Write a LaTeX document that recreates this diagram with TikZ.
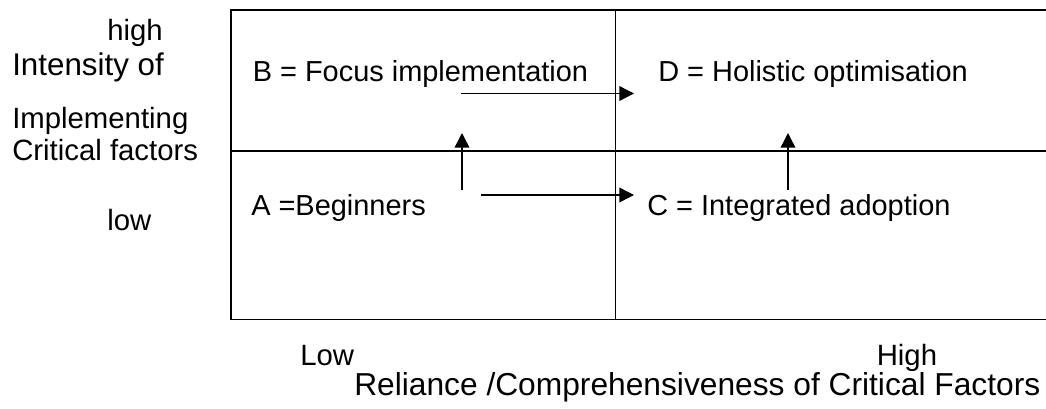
\documentclass[tikz,border=0pt]{standalone}
\usepackage{fontspec}
\setmainfont{Liberation Sans}
\usetikzlibrary{arrows.meta}

\begin{document}
\begin{tikzpicture}[x=0.75pt,y=-0.75pt,
        lbl/.style={anchor=base west,inner sep=0pt,font=\fontsize{21.7}{25}\selectfont},
        axis/.style={lbl,font=\fontsize{22}{26}\selectfont},
        caption/.style={lbl,font=\fontsize{23.8}{28}\selectfont},
        frame/.style={line width=1.3pt},
        divider/.style={line width=1pt},
        move/.style={line width=1.1pt,-{Triangle[length=11pt,width=11pt]}}]
        \useasboundingbox (0,0) rectangle (1046,408);
        \coordinate(tl) at (231,10);
        \coordinate(tr) at (1046,10);
        \coordinate(bl) at (231,319.5);
        \coordinate(br) at (1046,319.5);
        \coordinate(ml) at (231,151);
        \coordinate(mr) at (1046,151);
        \coordinate(mt) at (615.5,10);
        \coordinate(mb) at (615.5,319.5);
        \draw[frame](tr)--(tl)--(bl)--(br);
        \draw[divider](ml)--(mr);
        \draw[divider](mt)--(mb);
        \node[axis](high) at (107,40) {high};
        \node[axis,font=\fontsize{23.5}{26}\selectfont](intensity) at (12,75) {Intensity of};
        \node[axis](implementing) at (12,128) {Implementing};
        \node[axis](critical) at (12,160) {Critical factors};
        \node[axis](low) at (107,230) {low};
        \node[lbl](b) at (252.5,81.7) {B = Focus implementation};
        \node[lbl](d) at (658,81.7) {D = Holistic optimisation};
        \node[lbl](a) at (251,215) {A =Beginners};
        \node[lbl](c) at (647,215) {C = Integrated adoption};
        \node[axis](lowx) at (300,365) {Low};
        \node[axis](highx) at (876.5,365) {High};
        \node[caption](reliance) at (354,395) {Reliance /Comprehensiveness of Critical Factors};
        \coordinate(bd0) at (461,93.5);
        \coordinate(bd1) at (634,93.5);
        \coordinate(ac0) at (481,195);
        \coordinate(ac1) at (634,195);
        \coordinate(ab0) at (462,190);
        \coordinate(ab1) at (462,133);
        \coordinate(cd0) at (788,190);
        \coordinate(cd1) at (788,133);
        \draw[move](bd0)--(bd1);
        \draw[move](ac0)--(ac1);
        \draw[move](ab0)--(ab1);
        \draw[move](cd0)--(cd1);
        \end{tikzpicture}
\end{document}
